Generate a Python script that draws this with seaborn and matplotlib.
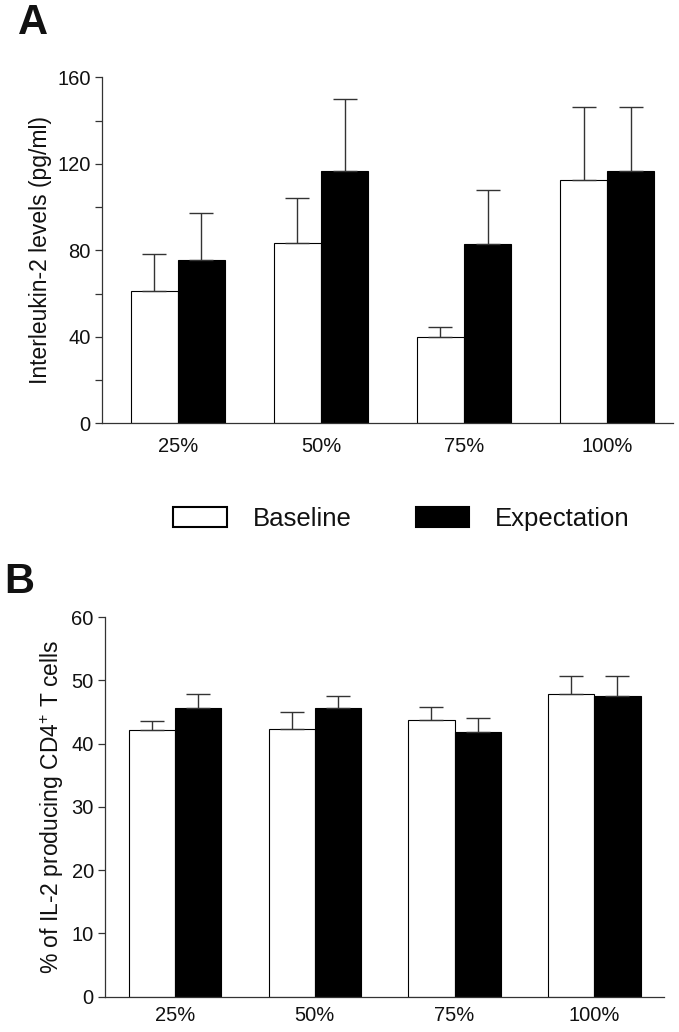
import numpy as np
import pandas as pd
import matplotlib
matplotlib.use("Agg")
import matplotlib.pyplot as plt
import seaborn as sns
from matplotlib.patches import Patch
from matplotlib.ticker import MultipleLocator

# Data
doses = ["25%", "50%", "75%", "100%"]
groups = ["Baseline", "Expectation"]

il2_baseline = [61.3, 83.5, 39.8, 112.4]
il2_expect = [75.5, 116.8, 83.1, 116.8]
il2_baseline_err = [16.8, 20.7, 4.9, 34.0]
il2_expect_err = [21.6, 33.3, 24.6, 29.6]

cd4_baseline = [42.1, 42.4, 43.7, 47.8]
cd4_expect = [45.7, 45.7, 41.8, 47.5]
cd4_baseline_err = [1.5, 2.6, 2.1, 2.9]
cd4_expect_err = [2.2, 1.9, 2.2, 3.2]

sns.set_style("white")
plt.rcParams['font.family'] = ['Liberation Sans', 'DejaVu Sans']
plt.rcParams['mathtext.fontset'] = 'custom'
plt.rcParams['mathtext.rm'] = 'Liberation Sans'
plt.rcParams['text.color'] = '#111111'
plt.rcParams['axes.labelcolor'] = '#111111'
plt.rcParams['xtick.labelcolor'] = '#111111'
plt.rcParams['ytick.labelcolor'] = '#111111'

palette = {"Baseline": "white", "Expectation": "black"}
spine_col = "#333333"


def make_df(base, expct):
    return pd.DataFrame({
        "dose": doses * 2,
        "group": [groups[0]] * 4 + [groups[1]] * 4,
        "value": base + expct,
    })


def draw_panel(ax, df, errs, ylim, major, minor, ylabel, xlim, xpad):
    sns.barplot(data=df, x="dose", y="value", hue="group", order=doses,
                hue_order=groups, palette=palette, edgecolor="black",
                linewidth=0.8, width=0.66, errorbar=None, legend=False, ax=ax)
    # upper-only error bars from the drawn bars
    for cont, err in zip(ax.containers, errs):
        xs = [p.get_x() + p.get_width() / 2 for p in cont.patches]
        ys = [p.get_height() for p in cont.patches]
        ax.errorbar(xs, ys, yerr=[np.zeros(len(err)), err], fmt="none",
                    ecolor=spine_col, elinewidth=1.0, capsize=8.6,
                    capthick=1.0, zorder=1)
    ax.set_ylim(*ylim)
    ax.set_xlim(*xlim)
    ax.yaxis.set_major_locator(MultipleLocator(major))
    if minor:
        ax.yaxis.set_minor_locator(MultipleLocator(minor))
    ax.tick_params(axis="y", which="both", direction="out", length=5,
                   width=0.9, color=spine_col, left=True, labelsize=14.5, pad=3)
    ax.tick_params(axis="x", length=0, labelsize=14.5, pad=xpad)
    ax.set_xlabel("")
    ax.set_ylabel(ylabel, fontsize=16.5, labelpad=4)
    sns.despine(ax=ax)
    for s in ["left", "bottom"]:
        ax.spines[s].set_color(spine_col)
        ax.spines[s].set_linewidth(0.9)


fig = plt.figure(figsize=(6.79, 10.32), dpi=100)
ax_a = fig.add_axes([0.1502, 0.5898, 0.841, 0.3353])
ax_b = fig.add_axes([0.1546, 0.0342, 0.8238, 0.3677])

draw_panel(ax_a, make_df(il2_baseline, il2_expect),
           [il2_baseline_err, il2_expect_err], (0, 160), 40, 20,
           "Interleukin-2 levels (pg/ml)", (-0.53, 3.46), 10)
draw_panel(ax_b, make_df(cd4_baseline, cd4_expect),
           [cd4_baseline_err, cd4_expect_err], (0, 60), 10, None,
           r"% of IL-2 producing CD4$^{+}$ T cells", (-0.5, 3.5), 7)

handles = [Patch(facecolor=palette[g], edgecolor="black", linewidth=1.5) for g in groups]
fig.legend(handles, groups, loc="center", bbox_to_anchor=(0.591, 0.497),
           ncol=2, frameon=False, fontsize=18.5, handlelength=2.1,
           handleheight=0.78, handletextpad=1.0, columnspacing=2.5)

fig.text(0.026, 0.978, "A", fontsize=30, fontweight="bold", va="center", ha="left")
fig.text(0.006, 0.436, "B", fontsize=30, fontweight="bold", va="center", ha="left")

fig.savefig("out.png", dpi=100)
